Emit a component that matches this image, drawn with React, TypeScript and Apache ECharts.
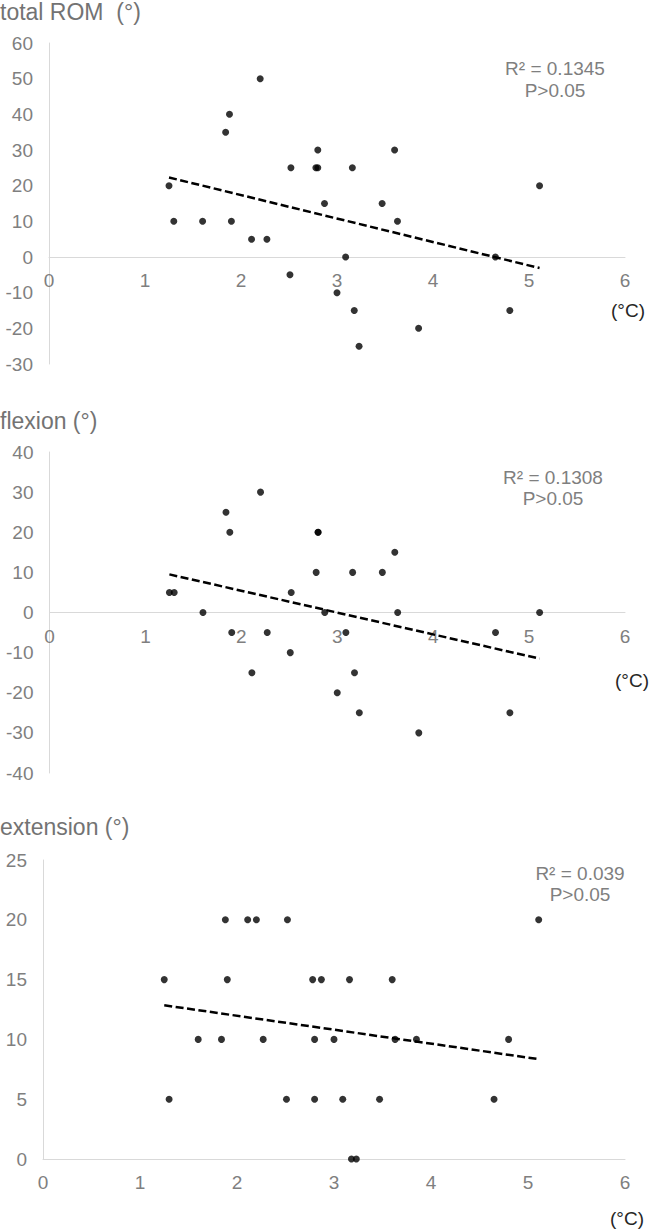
import React, { useEffect, useRef } from "react";
import * as echarts from "echarts";

// Temperature change (°C) for each of 27 subjects
const tempX = [1.25, 1.3, 1.6, 1.84, 1.88, 1.9, 2.11, 2.2, 2.27, 2.51, 2.52, 2.78, 2.8, 2.8, 2.87, 3.0, 3.09, 3.16, 3.18, 3.23, 3.47, 3.6, 3.63, 3.85, 4.65, 4.8, 5.11];
const totalROM = [20, 10, 10, 35, 40, 10, 5, 50, 5, -5, 25, 25, 30, 25, 15, -10, 0, 25, -15, -25, 15, 30, 10, -20, 0, -15, 20];
const flexion = [5, 5, 0, 25, 20, -5, -15, 30, -5, -10, 5, 10, 20, 20, 0, -20, -5, 10, -15, -25, 10, 15, 0, -30, -5, -25, 0];
const extension = [15, 5, 10, 10, 20, 15, 20, 20, 10, 5, 20, 15, 10, 5, 15, 10, 5, 15, 0, 0, 5, 15, 10, 10, 5, 10, 20];

// Linear trend lines (start / end values)
const trendX = [1.25, 5.11];
const totalTrend = [22.3, -3.1];
const flexionTrend = [9.5, -11.5];
const extensionTrend = [12.85, 8.35];

const titles = ["total ROM  (°)", "flexion (°)", "extension (°)"];
const r2Labels = ["R² = 0.1345", "R² = 0.1308", "R² = 0.039"];
const pLabel = "P>0.05";
const unitLabel = "(°C)";

const FONT = "'Liberation Sans', Arial, sans-serif";
const GRAY = "#7f7f7f";
const AXIS = "#d9d9d9";

export default function App() {
  const ref = useRef<HTMLDivElement>(null);

  useEffect(() => {
    if (!ref.current) return;
    const chart = echarts.init(ref.current, null, { renderer: "svg" });

    const panels = [
      { ys: totalROM, trend: totalTrend, min: -30, max: 60, interval: 10, grid: { left: 49, top: 43, height: 321 } },
      { ys: flexion, trend: flexionTrend, min: -40, max: 40, interval: 10, grid: { left: 49.5, top: 452, height: 321 } },
      { ys: extension, trend: extensionTrend, min: 0, max: 25, interval: 5, grid: { left: 43, top: 860, height: 299 } },
    ];

    const grids = panels.map((p) => ({ left: p.grid.left, top: p.grid.top, height: p.grid.height, right: 24 }));

    // x axis sits on the y = 0 line: shift it up from the grid's bottom edge
    const xAxes = panels.map((p, i) => ({
      type: "value",
      gridIndex: i,
      position: "bottom",
      offset: -(p.grid.height * (0 - p.min)) / (p.max - p.min),
      min: 0,
      max: 6,
      interval: 1,
      axisLine: { show: true, onZero: false, lineStyle: { color: AXIS, width: 1 } },
      axisTick: { show: false },
      splitLine: { show: false },
      axisLabel: { color: GRAY, fontSize: 19, fontFamily: FONT, margin: 14 },
    }));

    const yAxes = panels.map((p, i) => ({
      type: "value",
      gridIndex: i,
      min: p.min,
      max: p.max,
      interval: p.interval,
      axisLine: { show: true, onZero: false, lineStyle: { color: AXIS, width: 1 } },
      axisTick: { show: false },
      splitLine: { show: false },
      axisLabel: { color: GRAY, fontSize: 19, fontFamily: FONT, margin: 16 },
    }));

    const series: any[] = [];
    panels.forEach((p, i) => {
      series.push({
        type: "scatter",
        xAxisIndex: i,
        yAxisIndex: i,
        data: tempX.map((x, k) => [x, p.ys[k]]),
        symbolSize: 7,
        itemStyle: { color: "#000000" },
        z: 3,
      });
      series.push({
        type: "line",
        xAxisIndex: i,
        yAxisIndex: i,
        data: trendX.map((x, k) => [x, p.trend[k]]),
        showSymbol: false,
        symbol: "none",
        lineStyle: { color: "#000000", width: 2.5, type: [8, 3.5] },
        z: 2,
      });
    });

    const titleY = [13, 422, 828];
    const r2Pos = [
      [555, 68, 90],
      [553, 477, 498],
      [580, 873, 894],
    ];
    const unitPos = [
      [628, 310],
      [632, 680],
      [627, 1218],
    ];

    const graphic: any[] = [];
    titles.forEach((t, i) => {
      graphic.push({
        type: "text",
        left: 0,
        top: titleY[i] - 13,
        style: { text: t, fill: "#737373", font: `23px ${FONT}` },
      });
      graphic.push({
        type: "text",
        x: r2Pos[i][0],
        y: r2Pos[i][1],
        style: { text: r2Labels[i], fill: GRAY, font: `19px ${FONT}`, textAlign: "center", textVerticalAlign: "middle" },
      });
      graphic.push({
        type: "text",
        x: r2Pos[i][0],
        y: r2Pos[i][2],
        style: { text: pLabel, fill: GRAY, font: `19px ${FONT}`, textAlign: "center", textVerticalAlign: "middle" },
      });
      graphic.push({
        type: "text",
        x: unitPos[i][0],
        y: unitPos[i][1],
        style: { text: unitLabel, fill: "#262626", font: `19px ${FONT}`, textAlign: "center", textVerticalAlign: "middle" },
      });
    });

    chart.setOption({
      animation: false,
      backgroundColor: "#ffffff",
      grid: grids,
      xAxis: xAxes,
      yAxis: yAxes,
      series,
      graphic,
    });

    return () => chart.dispose();
  }, []);

  return (
    <div
      ref={ref}
      style={{ position: "absolute", left: 0, top: 0, width: 649, height: 1231, background: "#fff" }}
    />
  );
}
